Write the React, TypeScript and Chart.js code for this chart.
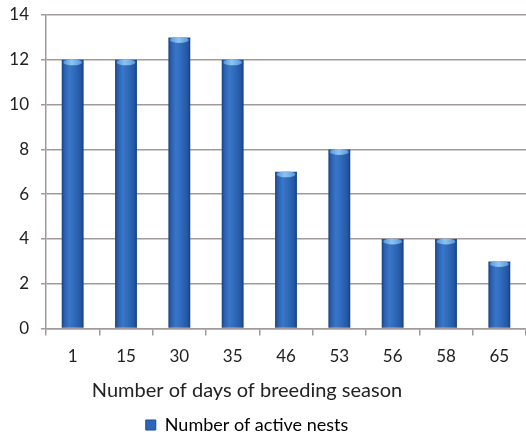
import React, { useEffect, useRef } from "react";
import { Chart, registerables } from "chart.js";

Chart.register(...registerables);

const categories = ["1", "15", "30", "35", "46", "53", "56", "58", "65"];
const activeNests = [12, 12, 13, 12, 7, 8, 4, 4, 3];
const yMin = 0;
const yMax = 14;
const yStep = 2;
const xTitle = "Number of days of breeding season";
const seriesName = "Number of active nests";

const FONT = "Lato, 'Open Sans', sans-serif";
const GRID = "#a29a98";
const BAR_PCT = 0.41;
const SHIFT = 32;

const capPlugin = {
  id: "barCaps",
  afterDatasetsDraw(chart: any) {
    const ctx = chart.ctx;
    const meta = chart.getDatasetMeta(0);
    meta.data.forEach((el: any) => {
      const { x, y, width } = el.getProps(["x", "y", "width"], true);
      const rx = width / 2 - 1.5;
      const g = ctx.createLinearGradient(x - rx, 0, x + rx, 0);
      g.addColorStop(0, "#5a97d8");
      g.addColorStop(0.45, "#8cc3f0");
      g.addColorStop(1, "#5a97d8");
      ctx.save();
      ctx.beginPath();
      ctx.ellipse(x, y + 2.5, rx, 3, 0, 0, Math.PI * 2);
      ctx.fillStyle = g;
      ctx.fill();
      ctx.restore();
    });
  },
};

export default function App() {
  const ref = useRef<HTMLCanvasElement | null>(null);

  useEffect(() => {
    document.body.style.margin = "0";
    document.body.style.overflow = "hidden";
    const canvas = ref.current;
    if (!canvas) return;
    const chart = new Chart(canvas, {
      type: "bar",
      data: {
        labels: categories,
        datasets: [
          {
            label: seriesName,
            data: activeNests,
            backgroundColor: (c: any) => {
              const ch = c.chart;
              if (c.type !== "data" || !ch.chartArea) return "#2d66b8";
              const xs = ch.scales.x;
              const x = xs.getPixelForValue(c.dataIndex);
              const w = (xs.width / categories.length) * BAR_PCT;
              const g = ch.ctx.createLinearGradient(x - w / 2, 0, x + w / 2, 0);
              g.addColorStop(0, "#17417f");
              g.addColorStop(0.12, "#2a5fad");
              g.addColorStop(0.35, "#3877c8");
              g.addColorStop(0.6, "#2f69ba");
              g.addColorStop(0.88, "#2456a2");
              g.addColorStop(1, "#163e7a");
              return g;
            },
            borderWidth: 0,
            categoryPercentage: 1,
            barPercentage: BAR_PCT,
          },
        ],
      },
      options: {
        animation: false,
        responsive: true,
        maintainAspectRatio: false,
        layout: { padding: { left: 0, top: 15, right: 0, bottom: -12 } },
        scales: {
          x: {
            grid: {
              offset: true,
              drawOnChartArea: false,
              drawTicks: true,
              tickLength: 7,
              color: GRID,
              lineWidth: 1.5,
            },
            border: { color: GRID, width: 1.5 },
            ticks: { color: "#222", font: { family: FONT, size: 17 }, padding: 11 },
          },
          y: {
            min: yMin,
            max: yMax,
            afterFit: (s: any) => {
              s.width = 46 + SHIFT;
              s.paddingTop = 0;
            },
            ticks: {
              stepSize: yStep,
              color: "#222",
              font: { family: FONT, size: 17 },
              padding: 12,
            },
            grid: { color: GRID, lineWidth: 1.5, tickLength: 5 },
            border: { color: GRID, width: 1.5 },
          },
        },
        plugins: {
          tooltip: { enabled: false },
          title: {
            display: true,
            text: xTitle,
            position: "bottom",
            weight: 500,
            color: "#222",
            font: { family: FONT, size: 20, weight: "normal" },
            padding: { top: 1, bottom: 11 },
          },
          legend: {
            position: "bottom",
            weight: 1000,
            labels: {
              color: "#222",
              font: { family: FONT, size: 18 },
              boxWidth: 10,
              boxHeight: 10,
              padding: 2,
              generateLabels: () => [
                {
                  text: seriesName,
                  fillStyle: "#2d66b8",
                  strokeStyle: "#1c4a8c",
                  lineWidth: 1,
                  hidden: false,
                  datasetIndex: 0,
                },
              ],
            },
          },
        },
      },
      plugins: [capPlugin],
    });
    return () => chart.destroy();
  }, []);

  return (
    <div style={{ position: "relative", width: 526 + SHIFT, height: 432, marginLeft: -SHIFT }}>
      <canvas ref={ref} />
    </div>
  );
}
